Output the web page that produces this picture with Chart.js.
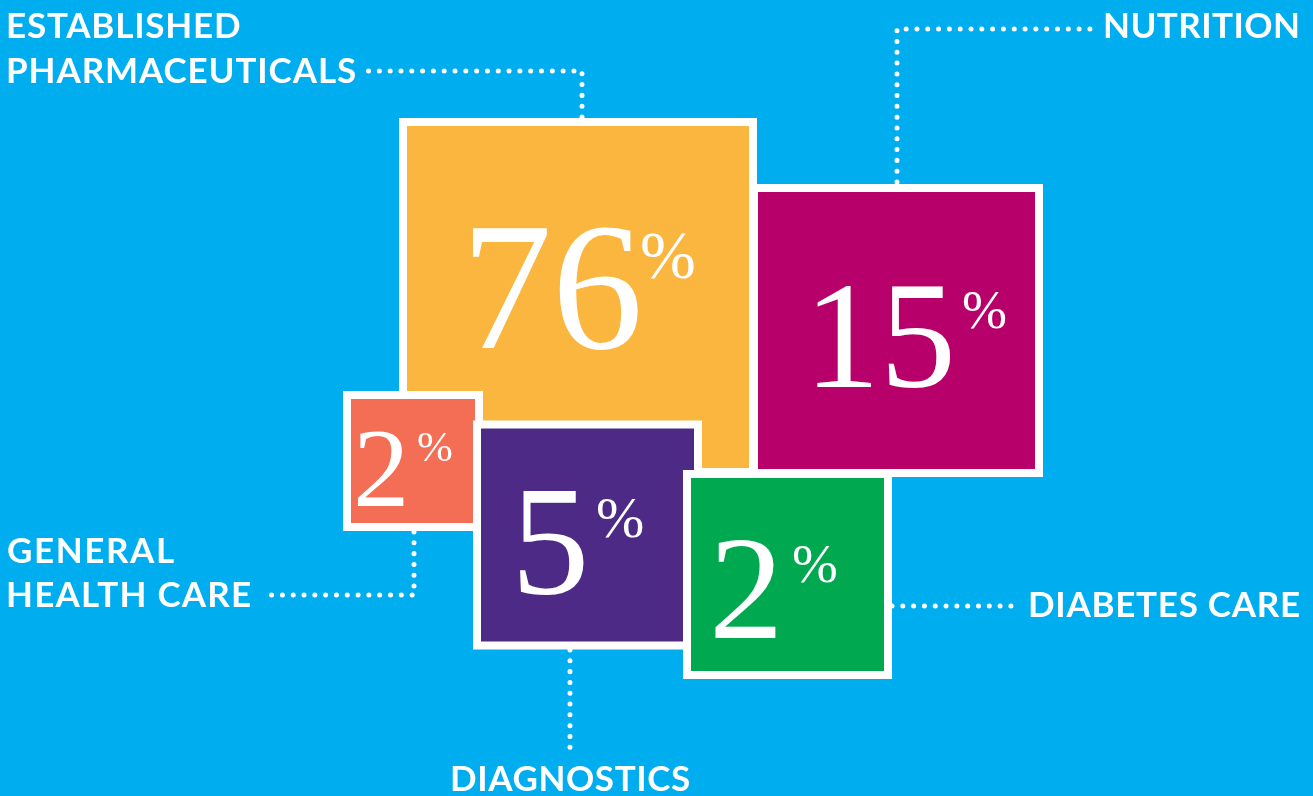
<!DOCTYPE html>
<html>
<head>
<meta charset="utf-8">
<script src="https://cdn.jsdelivr.net/npm/chart.js@4.4.1/dist/chart.umd.min.js"></script>
<style>
  html, body { margin: 0; padding: 0; background: #00aeef; overflow: hidden; }
  #caixa { width: 1313px; height: 796px; position: relative; }
</style>
</head>
<body>
<div id="caixa"><canvas id="grafico"></canvas></div>
<script>
// dados
const categorias = [['ESTABLISHED', 'PHARMACEUTICALS'], ['NUTRITION'], ['GENERAL', 'HEALTH CARE'], ['DIAGNOSTICS'], ['DIABETES CARE']];
const valores = [76, 15, 2, 5, 2];

// estilo
const cores = ['#fbb63f', '#b7006a', '#f36e55', '#4d2a86', '#00a84f'];

// layout dos quadrados (unidades dos eixos ocultos, 1 unidade = 1px)
const centroX = [578, 896.5, 413, 587.5, 787.5];
const centroY = [297, 330.5, 461, 535, 574.5];
const lado = [358, 293, 140, 229, 209];

// layout dos numeros
const numEsq = [473, 817, 357, 520, 715];
const numBase = [348, 387, 506, 593, 638];
const numTam = [182, 152, 113, 157, 149];
const pctEsq = [642, 963, 418, 597, 793];
const pctBase = [278, 328, 461, 537, 582];
const pctTam = [67, 54, 43, 58, 55];

// layout dos rotulos
const rotX = [8, 1298, 8, 570.5, 1030];
const rotAlinha = ['left', 'right', 'left', 'center', 'left'];
const rotBase = [[38, 83], [38], [563, 607], [791], [617]];
const rotLarg = [[232, 347], [193], [166, 242], [237], [269]];

// linhas pontilhadas (do quadrado ate o rotulo)
const guias = [
    [[582, 117], [582, 71], [362, 71]],
    [[897, 182], [897, 29], [1093, 29]],
    [[414, 532], [414, 595], [266, 595]],
    [[570, 650], [570, 756]],
    [[892, 606], [1020, 606]]
];

const pluginTextos = {
    id: 'textos',
    afterDatasetsDraw(chart) {
        const ctx = chart.ctx;
        const sx = chart.scales.x, sy = chart.scales.y;
        ctx.save();
        ctx.fillStyle = '#ffffff';
        ctx.textBaseline = 'alphabetic';
        ctx.textAlign = 'left';

        valores.forEach((v, i) => {
            ctx.font = numTam[i] + 'px "Liberation Serif"';
            let m = ctx.measureText(String(v));
            ctx.fillText(String(v), sx.getPixelForValue(numEsq[i]) + m.actualBoundingBoxLeft, sy.getPixelForValue(numBase[i]));
            ctx.font = pctTam[i] + 'px "Liberation Serif"';
            m = ctx.measureText('%');
            ctx.fillText('%', sx.getPixelForValue(pctEsq[i]) + m.actualBoundingBoxLeft, sy.getPixelForValue(pctBase[i]));
        });

        ctx.font = 'bold 35px Lato';
        categorias.forEach((linhas, i) => {
            linhas.forEach((txt, j) => {
                ctx.letterSpacing = '0px';
                const m0 = ctx.measureText(txt);
                const tinta0 = m0.actualBoundingBoxLeft + m0.actualBoundingBoxRight;
                const esp = (rotLarg[i][j] - tinta0) / (txt.length - 1);
                const tinta = tinta0 + esp * (txt.length - 1);
                let esq;
                const x = sx.getPixelForValue(rotX[i]);
                if (rotAlinha[i] === 'left') esq = x;
                else if (rotAlinha[i] === 'right') esq = x - tinta;
                else esq = x - tinta / 2;
                ctx.letterSpacing = esp.toFixed(2) + 'px';
                ctx.fillText(txt, esq + m0.actualBoundingBoxLeft, sy.getPixelForValue(rotBase[i][j]));
            });
        });
        ctx.restore();
    }
};

const conjuntos = [{
    label: 'Quadrados',
    data: centroX.map((x, i) => ({ x: x, y: centroY[i] })),
    pointStyle: 'rect',
    pointRadius: (c) => {
        const sx = c.chart.scales.x;
        const px = sx.getPixelForValue(lado[c.dataIndex] - 8) - sx.getPixelForValue(0);
        return px / Math.SQRT2;
    },
    pointBackgroundColor: cores,
    pointBorderColor: '#ffffff',
    pointBorderWidth: 8,
    showLine: false,
    clip: false
}];

guias.forEach((g, i) => {
    conjuntos.push({
        label: 'guia ' + i,
        data: g.map(p => ({ x: p[0], y: p[1] })),
        showLine: true,
        pointRadius: 0,
        borderColor: '#ffffff',
        borderWidth: 5,
        borderDash: [0.01, 10.8],
        borderCapStyle: 'round',
        borderJoinStyle: 'round',
        tension: 0,
        fill: false,
        clip: false
    });
});

const grafico = new Chart(document.getElementById('grafico'), {
    type: 'scatter',
    data: { datasets: conjuntos },
    options: {
        responsive: true,
        maintainAspectRatio: false,
        animation: false,
        events: [],
        layout: { padding: 0 },
        plugins: { legend: { display: false }, tooltip: { enabled: false } },
        scales: {
            x: { type: 'linear', min: 0, max: 1313, display: false },
            y: { type: 'linear', min: 0, max: 796, reverse: true, display: false }
        }
    },
    plugins: [pluginTextos]
});
</script>
</body>
</html>
